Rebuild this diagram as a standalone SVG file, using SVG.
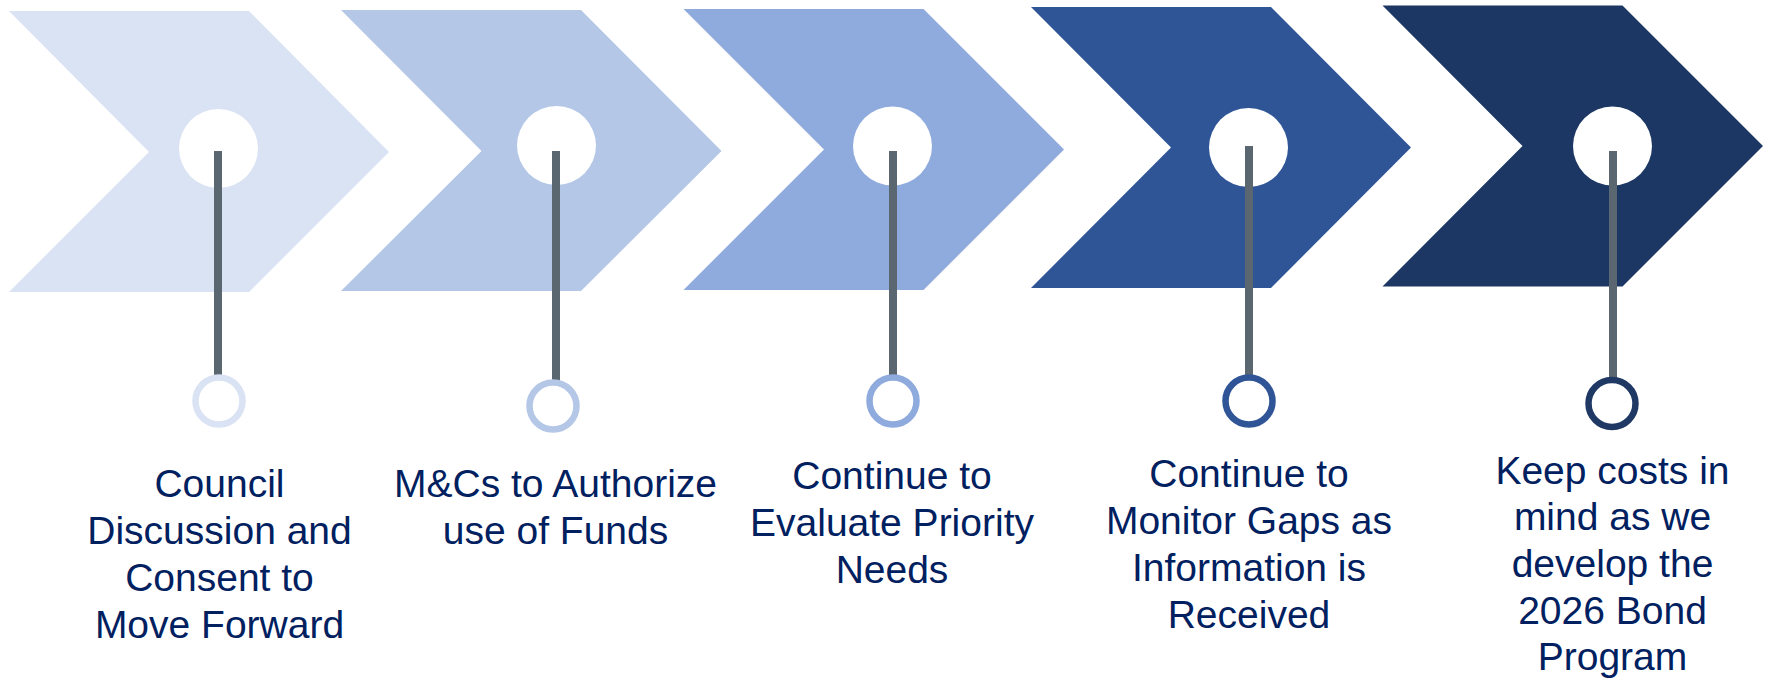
<svg xmlns="http://www.w3.org/2000/svg" width="1771" height="683" viewBox="0 0 1771 683">
<style>
.lbl{font-family:"Liberation Sans",Arial,sans-serif;font-size:39px;fill:#002060;text-anchor:middle}
.hole{fill:#ffffff}
.stem{stroke:#5a6670;stroke-width:8;fill:none}
.ring{fill:#ffffff;stroke-width:6.5}
</style>
<rect width="1771" height="683" fill="#ffffff"/>
<g id="step1">
<polygon points="9,11 249,11 389,152 249,292 9,292 149,152" fill="#DAE3F3"/>
<circle class="hole" cx="218.5" cy="148.5" r="39.5"/>
</g>
<g id="step2">
<polygon points="341,10 581,10 721.5,151 581,291 341,291 481.5,151" fill="#B4C7E7"/>
<circle class="hole" cx="556.5" cy="145.5" r="39.5"/>
</g>
<g id="step3">
<polygon points="683.5,9 923.5,9 1064,149.5 923.5,290 683.5,290 824,149.5" fill="#8FAADC"/>
<circle class="hole" cx="892.5" cy="146" r="39.5"/>
</g>
<g id="step4">
<polygon points="1031,7 1271,7 1411,147.5 1271,288 1031,288 1171,147.5" fill="#2F5597"/>
<circle class="hole" cx="1248.5" cy="147.5" r="39.5"/>
</g>
<g id="step5">
<polygon points="1382.5,5.5 1622.5,5.5 1763,146 1622.5,286.5 1382.5,286.5 1522.5,146" fill="#1C3763"/>
<circle class="hole" cx="1612.5" cy="146" r="39.5"/>
</g>
<g id="connectors">
<line class="stem" x1="218" y1="151" x2="218" y2="376"/>
<line class="stem" x1="556" y1="151" x2="556" y2="381"/>
<line class="stem" x1="893" y1="151" x2="893" y2="376"/>
<line class="stem" x1="1249" y1="146" x2="1249" y2="376"/>
<line class="stem" x1="1613" y1="151" x2="1613" y2="379"/>
</g>
<g id="marker1"><circle class="ring" cx="219" cy="401" r="23.5" stroke="#DAE3F3"/></g>
<g id="marker2"><circle class="ring" cx="553" cy="406" r="23.5" stroke="#B4C7E7"/></g>
<g id="marker3"><circle class="ring" cx="893" cy="401" r="23.5" stroke="#8FAADC"/></g>
<g id="marker4"><circle class="ring" cx="1249" cy="401" r="23.5" stroke="#2F5597"/></g>
<g id="marker5"><circle class="ring" cx="1612" cy="403.5" r="23.5" stroke="#1F3864"/></g>
<g id="label1">
<text class="lbl" x="219.5" y="496.5">Council</text>
<text class="lbl" x="219.5" y="543.5">Discussion and</text>
<text class="lbl" x="219.5" y="590.5">Consent to</text>
<text class="lbl" x="219.5" y="637.5">Move Forward</text>
</g>
<g id="label2">
<text class="lbl" x="555.5" y="496.5">M&amp;Cs to Authorize</text>
<text class="lbl" x="555.5" y="543.5">use of Funds</text>
</g>
<g id="label3">
<text class="lbl" x="892" y="489">Continue to</text>
<text class="lbl" x="892" y="536">Evaluate Priority</text>
<text class="lbl" x="892" y="583">Needs</text>
</g>
<g id="label4">
<text class="lbl" x="1249" y="487">Continue to</text>
<text class="lbl" x="1249" y="534">Monitor Gaps as</text>
<text class="lbl" x="1249" y="581">Information is</text>
<text class="lbl" x="1249" y="628">Received</text>
</g>
<g id="label5">
<text class="lbl" x="1612.5" y="483.5">Keep costs in</text>
<text class="lbl" x="1612.5" y="530">mind as we</text>
<text class="lbl" x="1612.5" y="577">develop the</text>
<text class="lbl" x="1612.5" y="623.5">2026 Bond</text>
<text class="lbl" x="1612.5" y="670">Program</text>
</g>
</svg>
